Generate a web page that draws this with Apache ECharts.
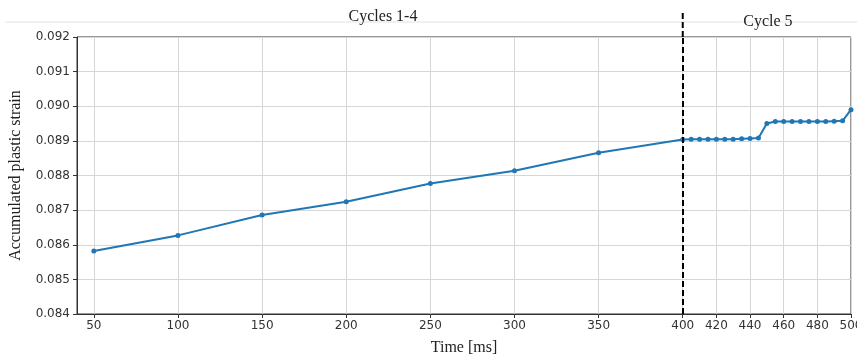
<!DOCTYPE html>
<html>
<head>
<meta charset="utf-8">
<script src="https://cdn.jsdelivr.net/npm/echarts@6/dist/echarts.min.js"></script>
<style>
html,body{margin:0;padding:0;background:#fff;}
#chart{width:857px;height:356px;}
</style>
</head>
<body>
<div id="chart"></div>
<script>
// Data
const timesCycles14 = [50, 100, 150, 200, 250, 300, 350, 400];
const strainCycles14 = [0.08582, 0.08627, 0.08686, 0.08724, 0.08777, 0.08814, 0.08866, 0.08904];
const timesCycle5 = [400, 405, 410, 415, 420, 425, 430, 435, 440, 445, 450, 455, 460, 465, 470, 475, 480, 485, 490, 495, 500];
const strainCycle5 = [0.08904, 0.08905, 0.08905, 0.08905, 0.08905, 0.08905, 0.08905, 0.08906, 0.08907, 0.08908, 0.08950, 0.08956, 0.08956, 0.08956, 0.08956, 0.08956, 0.08956, 0.08956, 0.08957, 0.08958, 0.08990];
const xTickValues = [50, 100, 150, 200, 250, 300, 350, 400, 420, 440, 460, 480, 500];
const yTicks = [0.084, 0.085, 0.086, 0.087, 0.088, 0.089, 0.090, 0.091, 0.092];
const cycleBoundary = 400;
const sectionLabels = ['Cycles 1-4', 'Cycle 5'];
const xAxisName = 'Time [ms]';
const yAxisName = 'Accumulated plastic strain';

const lineData = timesCycles14.map((t, i) => [t, strainCycles14[i]])
  .concat(timesCycle5.slice(1).map((t, i) => [t, strainCycle5[i + 1]]));

const chart = echarts.init(document.getElementById('chart'), null, {renderer: 'canvas'});
const blue = '#1f77b4';
const option = {
  animation: false,
  backgroundColor: '#ffffff',
  grid: {left: 77, top: 37, right: 6, bottom: 42, containLabel: false, outerBoundsMode: 'none',
    show: true, borderColor: '#333', borderWidth: 1, backgroundColor: 'transparent'},
  xAxis: {
    type: 'value', min: 40, max: 500,
    name: xAxisName, nameLocation: 'middle', nameGap: 26,
    nameTextStyle: {fontFamily: 'Liberation Serif', fontSize: 16, color: '#222'},
    axisLine: {show: true, onZero: false, lineStyle: {color: '#333', width: 1}},
    axisTick: {show: true, length: 4, lineStyle: {color: '#333'}, customValues: xTickValues},
    axisLabel: {customValues: xTickValues, fontFamily: 'DejaVu Sans', fontSize: 12, color: '#333', margin: 6, showMinLabel: true, showMaxLabel: true, hideOverlap: false},
    splitLine: {show: true, lineStyle: {color: '#d6d6d6', width: 1}}
  },
  yAxis: {
    type: 'value', min: 0.084, max: 0.092, interval: 0.001,
    name: yAxisName, nameLocation: 'middle', nameGap: 53,
    nameTextStyle: {fontFamily: 'Liberation Serif', fontSize: 16, color: '#222'},
    axisLine: {show: true, lineStyle: {color: '#333', width: 1}},
    axisTick: {show: true, length: 4, lineStyle: {color: '#333'}},
    axisLabel: {fontFamily: 'DejaVu Sans', fontSize: 12, color: '#333', margin: 7, formatter: v => v.toFixed(3)},
    splitLine: {show: true, lineStyle: {color: '#d6d6d6', width: 1}}
  },
  series: [{
    type: 'line',
    data: lineData,
    symbol: 'circle', symbolSize: 5,
    itemStyle: {color: blue},
    lineStyle: {color: blue, width: 2},
    z: 3,
    markLine: {
      silent: true, symbol: 'none', label: {show: false},
      lineStyle: {color: '#000', type: [6, 3], width: 2},
      data: [{xAxis: cycleBoundary}],
      z: 4
    }
  }]
};
chart.setOption(option);

const topPt = chart.convertToPixel({gridIndex: 0}, [cycleBoundary, 0.092]);
const right5 = chart.convertToPixel({gridIndex: 0}, [500, 0.092]);
chart.setOption({
  graphic: [
    {type: 'line', shape: {x1: 5, y1: 22, x2: 857, y2: 22}, style: {stroke: '#e2e2e2', lineWidth: 1}, z: 1},
    {type: 'line', shape: {x1: topPt[0], y1: 13, x2: topPt[0], y2: topPt[1]}, style: {stroke: '#000', lineWidth: 2, lineDash: [6, 3]}, z: 10},
    {type: 'text', x: 383, y: 17, style: {text: sectionLabels[0], font: '16px "Liberation Serif"', fill: '#222', align: 'center', verticalAlign: 'middle'}, z: 10},
    {type: 'text', x: (topPt[0] + right5[0]) / 2 + 1, y: 22, style: {text: sectionLabels[1], font: '16px "Liberation Serif"', fill: '#222', align: 'center', verticalAlign: 'middle'}, z: 10}
  ]
});
</script>
</body>
</html>
